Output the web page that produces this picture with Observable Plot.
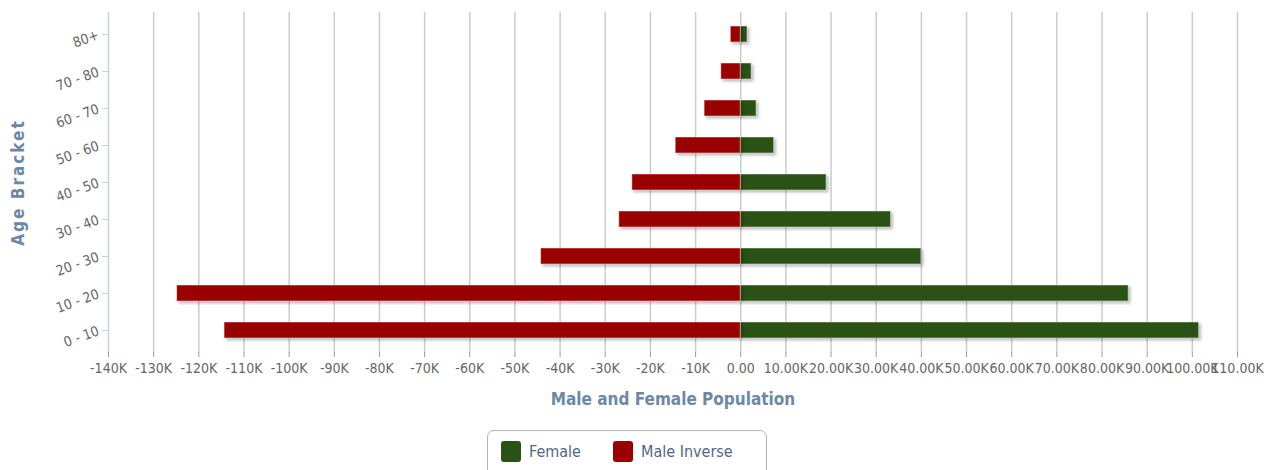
<!DOCTYPE html>
<html><head><meta charset="utf-8">
<script src="https://cdn.jsdelivr.net/npm/d3@7"></script>
<script src="https://cdn.jsdelivr.net/npm/@observablehq/plot@0.6"></script>
<style>
body{margin:0;background:#fff;width:1273px;height:470px;overflow:hidden;position:relative;font-family:"DejaVu Sans Condensed","DejaVu Sans",sans-serif}
#chart{position:absolute;left:0;top:0}
#legend{position:absolute;left:487px;top:430px;width:280px;height:52px;border:1.5px solid #b4b4b4;border-radius:7px;box-sizing:border-box;background:#fff}
.item{position:absolute;top:10px;display:flex;align-items:center;font-size:16px;color:#51668a;white-space:nowrap}
.sw{width:20px;height:21px;border-radius:3px;margin-right:8px}
</style></head><body>
<div id="chart"></div>
<div id="legend"></div>
<script>
const ageBrackets = ["0 - 10", "10 - 20", "20 - 30", "30 - 40", "40 - 50", "50 - 60", "60 - 70", "70 - 80", "80+"];
const femaleValues = [101500, 85900, 40000, 33300, 19000, 7400, 3500, 2400, 1500];
const maleInverseValues = [-114300, -124800, -44200, -26900, -24000, -14400, -8000, -4300, -2200];
const xTickValues = [-140000, -130000, -120000, -110000, -100000, -90000, -80000, -70000, -60000, -50000, -40000, -30000, -20000, -10000, 0, 10000, 20000, 30000, 40000, 50000, 60000, 70000, 80000, 90000, 100000, 110000];
const seriesNames = ["Female", "Male Inverse"];
const seriesColors = ["#2a5214", "#990000"];

const rows = ageBrackets.map((age, i) => ({age, female: femaleValues[i], male: maleInverseValues[i]}));
const fmt = v => v < 0 ? "-" + Math.abs(v / 1000) + "K" : v === 0 ? "0.00" : (v / 1000).toFixed(2) + "K";
const font = '"DejaVu Sans Condensed","DejaVu Sans",sans-serif';

const chart = Plot.plot({
  width: 1273, height: 425,
  marginTop: 12, marginBottom: 73, marginLeft: 108, marginRight: 36,
  style: {fontFamily: font, fontSize: "14px", background: "white", overflow: "visible"},
  x: {domain: [-140000, 110000]},
  y: {domain: ageBrackets.slice().reverse(), paddingInner: 0.58, paddingOuter: 0.29},
  marks: [
    Plot.gridX(xTickValues.slice(1), {stroke: "#cccccc", strokeOpacity: 1, strokeWidth: 1.5}),
    Plot.barX(rows, {y: "age", x1: 0, x2: "female", fill: seriesColors[0], stroke: "#ffffff", strokeOpacity: 0.45, strokeWidth: 1}),
    Plot.barX(rows, {y: "age", x1: 0, x2: "male", fill: seriesColors[1], stroke: "#ffffff", strokeOpacity: 0.45, strokeWidth: 1}),
    Plot.frame({anchor: "left", stroke: "#c4d2e3", strokeWidth: 1.5}),
    Plot.axisX({ticks: xTickValues, tickFormat: fmt, tickSize: 5, tickPadding: 6, stroke: "#999", fill: "#666",
      label: "Male and Female Population", labelAnchor: "center", labelOffset: 52, labelArrow: "none"}),
    Plot.axisY({tickRotate: -20, tickSize: 6, tickPadding: 4, stroke: "#c4d2e3", fill: "#666",
      label: "Age Bracket", labelAnchor: "center", labelOffset: 97, labelArrow: "none"})
  ]
});
document.getElementById("chart").appendChild(chart);
const svg = d3.select(chart);
svg.selectAll('[aria-label="x-axis label"], [aria-label="y-axis label"]')
  .attr("fill", "#6d88a7").attr("font-weight", "bold").attr("font-size", 17);
svg.select('[aria-label="y-axis label"]').attr("letter-spacing", 2);
svg.selectAll('[aria-label="bar"]').style("filter", "drop-shadow(2px 2px 1.5px rgba(0,0,0,0.28))");

const legend = d3.select("#legend");
const offsets = [13, 125];
seriesNames.forEach((name, i) => {
  const it = legend.append("div").attr("class", "item").style("left", offsets[i] + "px");
  it.append("div").attr("class", "sw").style("background", seriesColors[i]);
  it.append("span").text(name);
});
</script>
</body></html>
